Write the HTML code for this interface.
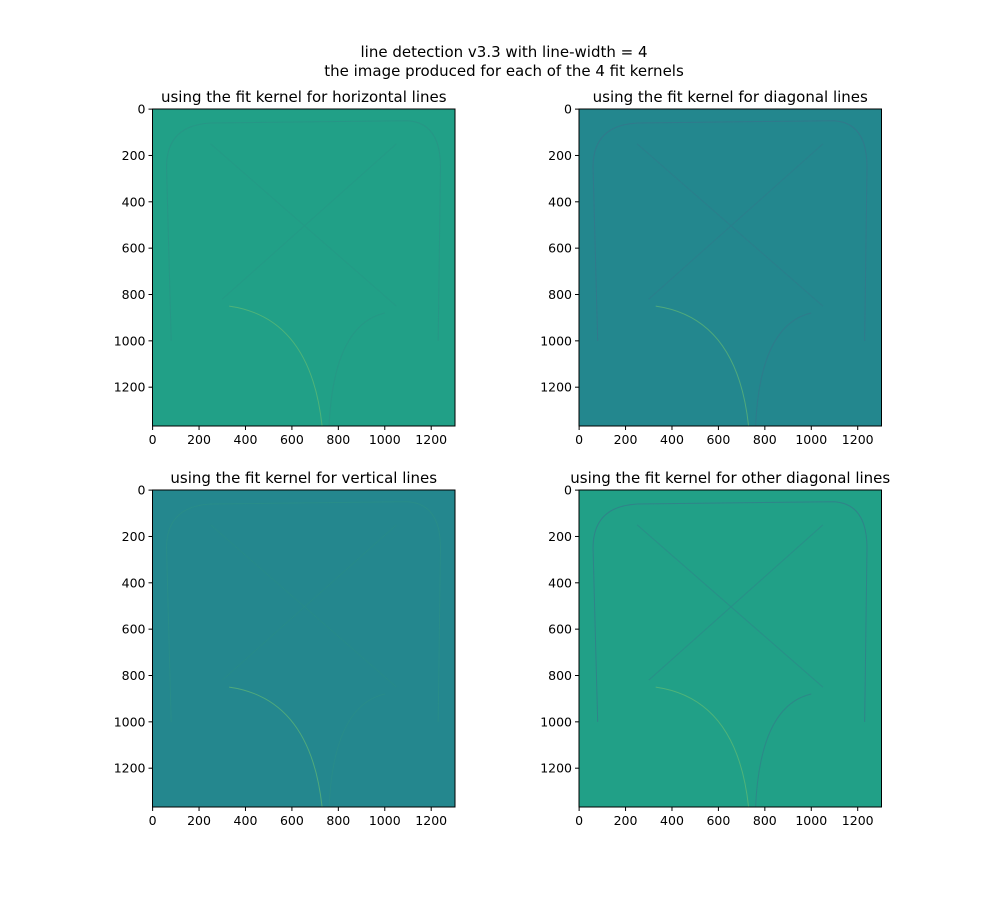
<!DOCTYPE html>
<html><head><meta charset="utf-8"><style>
body{margin:0;background:#fff;font-family:"Liberation Sans","DejaVu Sans",sans-serif;}
svg text{font-family:"DejaVu Sans","Liberation Sans",sans-serif;}
</style></head><body>
<svg id="fig" width="1008" height="907" viewBox="0 0 1008 907" xmlns="http://www.w3.org/2000/svg">
<rect width="1008" height="907" fill="#fff"/>
<text x="504" y="57" font-size="15" text-anchor="middle">line detection v3.3 with line-width = 4</text>
<text x="504" y="76" font-size="15" text-anchor="middle">the image produced for each of the 4 fit kernels</text>
<g id="panels"></g>
</svg>
<script>
const panelTitles = ["using the fit kernel for horizontal lines","using the fit kernel for diagonal lines","using the fit kernel for vertical lines","using the fit kernel for other diagonal lines"];
const panelColors = ["#21a087","#23878e","#24878e","#21a087"];
const xTicks = [0,200,400,600,800,1000,1200];
const yTicks = [0,200,400,600,800,1000,1200];
const imgW = 1303, imgH = 1368;
const panelBoxes = [[152.5,109,455,426],[579,109,881.5,426],[152.5,490,455,807],[579,490,881.5,807]];
const NS="http://www.w3.org/2000/svg";
const root=document.getElementById('panels');
function mk(t,a,p){const e=document.createElementNS(NS,t);for(const k in a)e.setAttribute(k,a[k]);p.appendChild(e);return e;}
panelBoxes.forEach((b,i)=>{
  const [x0,y0,x1,y1]=b;
  const sx=v=>x0+(v+0.5)/imgW*(x1-x0);
  const sy=v=>y0+(v+0.5)/imgH*(y1-y0);
  const g=mk('g',{},root);
  
  
  const im=mk('rect',{x:x0,y:y0,width:x1-x0,height:y1-y0,fill:panelColors[i]},g);
  
  
  // faint structure outlines
  const st=i%2?'#3a6f8a':'#2b8f85';
  mk('path',{d:`M${sx(80)} ${sy(1000)} L${sx(60)} ${sy(250)} Q${sx(60)} ${sy(70)} ${sx(250)} ${sy(60)} L${sx(1100)} ${sy(50)} Q${sx(1240)} ${sy(60)} ${sx(1240)} ${sy(250)} L${sx(1230)} ${sy(1000)}`,fill:'none',stroke:st,'stroke-width':1,opacity:0.6},g);
  mk('path',{d:`M${sx(330)} ${sy(850)} Q${sx(680)} ${sy(900)} ${sx(730)} ${sy(1368)}`,fill:'none',stroke:'#6cc070','stroke-width':1,opacity:0.6},g);
  mk('path',{d:`M${sx(1000)} ${sy(880)} Q${sx(780)} ${sy(930)} ${sx(760)} ${sy(1368)}`,fill:'none',stroke:st,'stroke-width':1,opacity:0.5},g);
  mk('path',{d:`M${sx(300)} ${sy(820)} L${sx(1050)} ${sy(150)} M${sx(250)} ${sy(150)} L${sx(1050)} ${sy(850)}`,fill:'none',stroke:st,'stroke-width':1,opacity:0.35},g);
  const fr=mk('rect',{x:x0,y:y0,width:x1-x0,height:y1-y0,fill:'none',stroke:'#000','stroke-width':1},g);
  
  
  const t=mk('text',{x:(x0+x1)/2,y:y0-7,'font-size':15,'text-anchor':'middle'},g);
  t.textContent=panelTitles[i];
  
  
  xTicks.forEach(v=>{
    const x=sx(v);
    mk('line',{x1:x,x2:x,y1:y1,y2:y1+4,stroke:'#000'},g);
    const l=mk('text',{x:x,y:y1+18,'font-size':12.5,'text-anchor':'middle'},g);
    l.textContent=v;
    
    
  });
  yTicks.forEach(v=>{
    const y=sy(v);
    mk('line',{x1:x0-4,x2:x0,y1:y,y2:y,stroke:'#000'},g);
    const l=mk('text',{x:x0-7,y:y+4.5,'font-size':12.5,'text-anchor':'end'},g);
    l.textContent=v;
    
    
  });
});
</script>
</body></html>
